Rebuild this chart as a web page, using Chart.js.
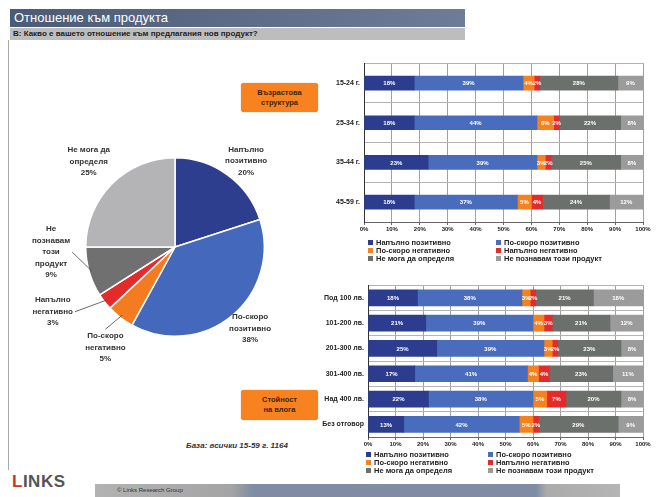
<!DOCTYPE html>
<html><head><meta charset="utf-8">
<script src="https://cdn.jsdelivr.net/npm/chart.js@4.4.1/dist/chart.umd.min.js"></script>
<style>
body{margin:0;width:663px;height:497px;background:#fff;position:relative;overflow:hidden;font-family:"Liberation Sans",Arial,sans-serif;}
.abs{position:absolute;}
#title{left:10px;top:9px;width:451px;height:18px;line-height:18px;padding-left:4px;color:#fff;font-size:13px;background:linear-gradient(to right,#4b5b76,#6e7d97);}
#question{left:10px;top:28px;width:452px;height:12px;line-height:12px;padding-left:3px;color:#222;font-size:8px;font-weight:bold;background:#bdbdbd;}
#vline{left:8px;top:40px;width:1px;height:430px;background:#a8a8a8;}
.callout{width:77px;background:#f7821f;border-radius:3px;color:#3a2510;font-size:7.5px;font-weight:bold;text-align:center;display:flex;align-items:center;justify-content:center;line-height:10px;box-shadow:0 0 1px #c86a10;}
.legend{display:grid;grid-template-columns:128px 130px;font-size:7.5px;font-weight:bold;color:#222;}
.legend div{height:8px;line-height:8px;white-space:nowrap;}
.legend span{display:inline-block;width:5px;height:5px;margin-right:3px;vertical-align:0px;}
#base{left:186px;top:441px;font-size:8px;font-style:italic;font-weight:bold;color:#333;}
#logo{left:12px;top:472px;font-size:17px;font-weight:bold;color:#555;letter-spacing:0.5px;}
#footbar{left:95px;top:484px;width:525px;height:13px;background:linear-gradient(to right,#b2b2b2 0%,#a4a4a4 26%,#7f8ca3 30%,#7f8ca3 84%,#ababab 86%,#b5b5b5 100%);font-size:6px;color:#333;line-height:13px;padding-left:0;}
canvas{position:absolute;}
</style></head><body>
<div class="abs" id="title">Отношение към продукта</div>
<div class="abs" id="question">В: Какво е вашето отношение към предлагания нов продукт?</div>
<div class="abs" id="vline"></div>
<div class="abs callout" style="left:241px;top:83px;height:29px;">Възрастова<br>структура</div>
<div class="abs callout" style="left:241px;top:390px;height:30px;">Стойност<br>на влога</div>
<div class="abs" id="base">База: всички 15-59 г. 1164</div>
<div class="abs" id="logo"><span style="color:#c0392b">L</span>INKS</div>
<div class="abs" id="footbar"><span style="margin-left:22px">© Links Research Group</span></div>
<canvas id="pie" width="310" height="250" style="left:20px;top:130px"></canvas>
<canvas id="ageChart" width="330" height="181" style="left:322px;top:55px"></canvas>
<canvas id="incChart" width="330" height="174" style="left:322px;top:277px"></canvas>
<div class="abs legend" id="leg1" style="left:368px;top:239px"></div>
<div class="abs legend" id="leg2" style="left:366px;top:451px;grid-template-columns:122px 130px"></div>
<script>
// ---------- DATA ----------
const seriesNames = ['Напълно позитивно','По-скоро позитивно','По-скоро негативно','Напълно негативно','Не мога да определя','Не познавам този продукт'];

const ageCategories = ['15-24 г.','25-34 г.','35-44 г.','45-59 г.'];
const ageFullyPositive  = [18,18,23,18];
const ageRatherPositive = [39,44,39,37];
const ageRatherNegative = [4,6,3,5];
const ageFullyNegative  = [2,2,2,4];
const ageCantSay        = [28,22,25,24];
const ageUnknown        = [9,8,8,12];

const incomeCategories = ['Под 100 лв.','101-200 лв.','201-300 лв.','301-400 лв.','Над 400 лв.','Без отговор'];
const incFullyPositive  = [18,21,25,17,22,13];
const incRatherPositive = [38,39,39,41,38,42];
const incRatherNegative = [3,4,3,4,5,5];
const incFullyNegative  = [2,3,2,4,7,2];
const incCantSay        = [21,21,23,23,20,29];
const incUnknown        = [18,12,8,11,8,9];

const pieCategories = ['Напълно позитивно','По-скоро позитивно','По-скоро негативно','Напълно негативно','Не познавам този продукт','Не мога да определя'];
const pieValues = [20,38,5,3,9,25];
const pieLabelLines = [['Напълно','позитивно'],['По-скоро','позитивно'],['По-скоро','негативно'],['Напълно','негативно'],['Не','познавам','този','продукт'],['Не мога да','определя']];

const xTickValues = [0,10,20,30,40,50,60,70,80,90,100];

// ---------- STYLES ----------
const fontFam = "'Liberation Sans', Arial, sans-serif";
Chart.defaults.font.family = fontFam;
const barColors = ['#2c3d8f','#4a6cbd','#f5821f','#e42a2a','#6b706d','#9b9b9b'];
const pieColors = ['#2d3e8e','#4468bb','#f47b20','#e52a2a','#707070','#b4b4b7'];
const pieLabelPlace = [{shift:3.6,k:1.25},{shift:-3.1,k:1.24},{shift:-3.1,k:1.37,lead:'top'},{shift:9.9,k:1.55,lead:'side'},{shift:13.9,k:1.39,lead:'side'},{shift:-0.3,k:1.36}];

// legends
function buildLegend(id){
  const el=document.getElementById(id);
  seriesNames.forEach((n,i)=>{const d=document.createElement('div');d.innerHTML='<span style="background:'+barColors[i]+'"></span>'+n;el.appendChild(d);});
}
buildLegend('leg1');buildLegend('leg2');

const barLabels = {id:'barLabels', afterDatasetsDraw(chart){
  const ctx=chart.ctx; ctx.save();
  ctx.font='bold 6px '+fontFam; ctx.fillStyle='#fff'; ctx.textAlign='center'; ctx.textBaseline='middle';
  chart.data.datasets.forEach((ds,di)=>{
    chart.getDatasetMeta(di).data.forEach((el,i)=>{
      const v=ds.data[i]; if(!v) return;
      ctx.fillText(v+'%',(el.x+el.base)/2,el.y+0.5);
    });
  });
  ctx.restore();
}};

function makeBar(id,cats,series,yWidth,barTh){
  const datasets=series.map((d,i)=>({label:seriesNames[i],data:d,backgroundColor:barColors[i],borderWidth:0,barThickness:barTh}));
  return new Chart(document.getElementById(id),{
    type:'bar',
    data:{labels:cats,datasets},
    options:{
      indexAxis:'y',responsive:false,maintainAspectRatio:false,animation:false,
      layout:{padding:{top:3,right:9,left:0,bottom:0}},
      plugins:{legend:{display:false},tooltip:{enabled:false}},
      scales:{
        x:{stacked:true,min:0,max:100,
          afterBuildTicks:s=>{s.ticks=xTickValues.map(v=>({value:v}));},
          ticks:{callback:v=>v+'%',font:{size:6,weight:'bold'},color:'#222',padding:1,maxRotation:0,autoSkip:false},
          grid:{color:'#a0a0a0',tickLength:3,tickColor:'#666'},border:{color:'#666'},
          afterFit:s=>{s.height=14;}},
        y:{stacked:true,
          ticks:{font:{size:7,weight:'bold'},color:'#222',padding:4},
          grid:{color:'#b4b4b4',offset:true,drawTicks:false},border:{color:'#333'},
          afterFit:s=>{s.width=yWidth;}}
      }
    },
    plugins:[barLabels]
  });
}

makeBar('ageChart',ageCategories,[ageFullyPositive,ageRatherPositive,ageRatherNegative,ageFullyNegative,ageCantSay,ageUnknown],42,14);
makeBar('incChart',incomeCategories,[incFullyPositive,incRatherPositive,incRatherNegative,incFullyNegative,incCantSay,incUnknown],46,16);

const pieLabels={id:'pieLabels',afterDraw(chart){
  const ctx=chart.ctx; const meta=chart.getDatasetMeta(0);
  ctx.save();
  ctx.font='bold 8px '+fontFam; ctx.fillStyle='#333'; ctx.strokeStyle='#444'; ctx.lineWidth=0.8;
  ctx.textAlign='center'; ctx.textBaseline='middle';
  meta.data.forEach((arc,i)=>{
    const p=arc.getProps(['x','y','outerRadius','startAngle','endAngle'],true);
    const mid=(p.startAngle+p.endAngle)/2;
    const pl=pieLabelPlace[i]; const a=mid+pl.shift*Math.PI/180;
    const cx=p.x+Math.cos(a)*p.outerRadius*pl.k, cy=p.y+Math.sin(a)*p.outerRadius*pl.k;
    const lines=[...pieLabelLines[i],pieValues[i]+'%'];
    const lh=11.5; const top=cy-lh*lines.length/2;
    lines.forEach((t,j)=>ctx.fillText(t,cx,top+lh*(j+0.5)));
    if(pl.lead){
      const sx=p.x+Math.cos(mid)*p.outerRadius*0.97, sy=p.y+Math.sin(mid)*p.outerRadius*0.97;
      let ex,ey;
      if(pl.lead==='top'){ex=cx;ey=top-1;}
      else{const w=Math.max(...lines.map(t=>ctx.measureText(t).width));ex=cx+w/2+2;ey=cy;}
      ctx.beginPath();ctx.moveTo(sx,sy);ctx.lineTo(ex,ey);ctx.stroke();
    }
  });
  ctx.restore();
}};

new Chart(document.getElementById('pie'),{
  type:'pie',
  data:{labels:pieCategories,datasets:[{data:pieValues,backgroundColor:pieColors,borderColor:'#fff',borderWidth:1.5}]},
  options:{responsive:false,maintainAspectRatio:false,animation:false,
    layout:{padding:{left:65,right:65,top:27,bottom:43}},
    plugins:{legend:{display:false},tooltip:{enabled:false}}},
  plugins:[pieLabels]
});
</script>
</body></html>
